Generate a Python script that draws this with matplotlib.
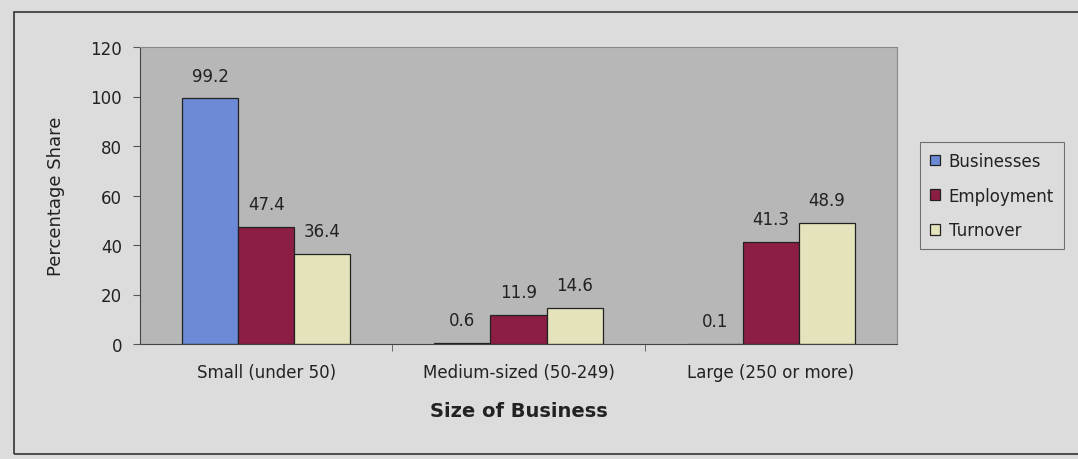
import matplotlib.pyplot as plt
import numpy as np
from matplotlib.patches import Rectangle

plt.rcParams['font.family'] = ['DejaVu Sans']

categories = ['Small (under 50)', 'Medium-sized (50-249)', 'Large (250 or more)']
series = ['Businesses', 'Employment', 'Turnover']
businesses = [99.2, 0.6, 0.1]
employment = [47.4, 11.9, 41.3]
turnover = [36.4, 14.6, 48.9]
colors = ['#6d8ad6', '#8c1d45', '#e4e3bb']

fig = plt.figure(figsize=(10.78, 4.6), dpi=100)
fig.patch.set_facecolor('#dddcdc')

# outer chart frame
fig.add_artist(Rectangle((14 / 1078, 5 / 460), 1.2, 442 / 460, transform=fig.transFigure,
                         fill=False, edgecolor='#333333', linewidth=1.2))

ax = fig.add_axes([140 / 1078, (460 - 345) / 460, 757 / 1078, 297 / 460])
ax.set_facecolor('#b7b7b7')

x = np.arange(len(categories))
w = 0.222
for i, (vals, col) in enumerate(zip([businesses, employment, turnover], colors)):
    pos = x + (i - 1) * w
    ax.bar(pos, vals, width=w, color=col, edgecolor='#222222', linewidth=0.9, label=series[i])
    for p, v in zip(pos, vals):
        ax.text(p, v + 5.5, f'{v}', ha='center', va='bottom', fontsize=12, color='#222222')

ax.set_xlim(-0.5, 2.5)
ax.set_ylim(0, 120)
ax.set_yticks(range(0, 121, 20))
ax.set_xticks([0.5, 1.5], minor=True)
ax.set_xticks(x)
ax.set_xticklabels(categories, fontsize=12, color='#222222')
ax.tick_params(axis='x', which='major', length=0, pad=14)
ax.tick_params(axis='x', which='minor', length=5, color='#555555')
ax.tick_params(axis='y', labelsize=12, labelcolor='#222222', length=5, color='#555555', pad=8)
for s in ['top', 'right']:
    ax.spines[s].set_color('#888888')
for s in ['left', 'bottom']:
    ax.spines[s].set_color('#444444')

ax.set_ylabel('Percentage Share', fontsize=13, labelpad=18, color='#222222')
ax.set_xlabel('Size of Business', fontsize=14, fontweight='bold', labelpad=14, color='#222222')

leg = ax.legend(loc='center left', bbox_to_anchor=(1.02, 0.5), fontsize=12,
                frameon=True, fancybox=False, edgecolor='#555555', facecolor='#dddcdc',
                handlelength=0.6, handleheight=0.6, handletextpad=0.5, labelspacing=1.0,
                borderpad=0.6)
leg.get_frame().set_linewidth(0.8)
for t in leg.get_texts():
    t.set_color('#222222')

fig.savefig('out.png', dpi=100, facecolor=fig.get_facecolor())
